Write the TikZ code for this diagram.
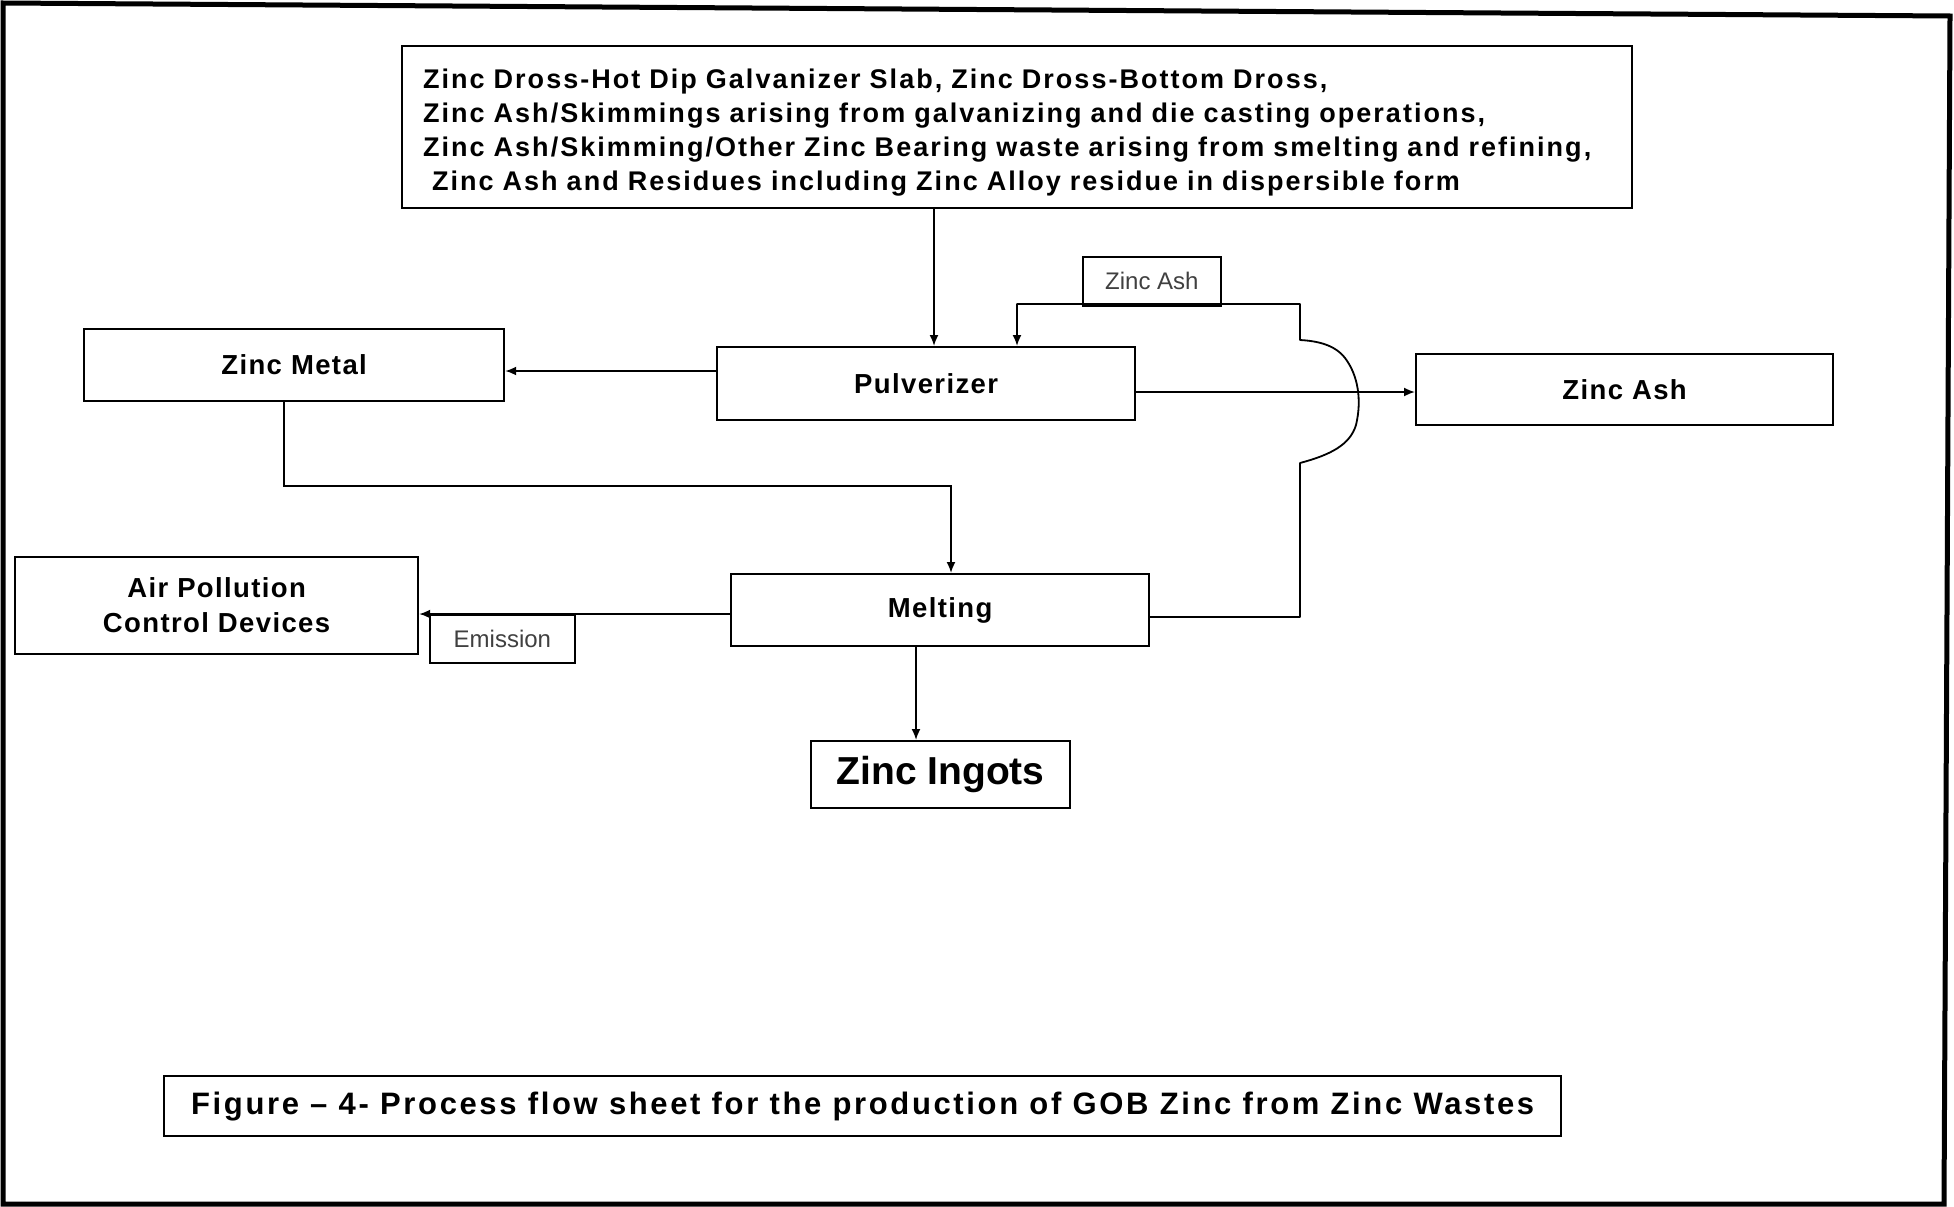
\documentclass[tikz,border=0pt]{standalone}
\usepackage{fontspec}
\setmainfont{Liberation Sans}
\newfontfamily\spaced[LetterSpace=5]{Liberation Sans}
\newfontfamily\wide[LetterSpace=7.5]{Liberation Sans}
\newfontfamily\capfont[LetterSpace=8.5]{Liberation Sans}
\usetikzlibrary{arrows.meta,calc}
\begin{document}
\begin{tikzpicture}[x=1pt,y=-1pt,
  box/.style={draw, line width=2.2pt, inner sep=0pt, anchor=north west},
  lab/.style={font=\spaced\bfseries\fontsize{27.5}{35}\selectfont, align=center},
  small/.style={draw, line width=1.8pt, inner sep=0pt, anchor=north west, text=black!75, font=\fontsize{24}{28}\selectfont},
  arr/.style={line width=1.8pt, -{Latex[length=11pt,width=9pt]}}]
\useasboundingbox (0,0) rectangle (1954,1207);
% outer frame
\draw[line width=5pt] (3,3) -- (1950,16) -- (1944,1204) -- (3,1204) -- cycle;
% nodes
\node[box, minimum width=1230pt, minimum height=162pt, text width=1188pt, align=left,
  font=\wide\bfseries\fontsize{27}{34}\selectfont] (src) at (401,45)
  {\rule{0pt}{30pt}Zinc Dross-Hot Dip Galvanizer Slab, Zinc Dross-Bottom Dross,\\
   Zinc Ash/Skimmings arising from galvanizing and die casting operations,\\
   Zinc Ash/Skimming/Other Zinc Bearing waste arising from smelting and refining,\\
   \hspace*{9pt}Zinc Ash and Residues including Zinc Alloy residue in dispersible form};
\node[box, lab, minimum width=418pt, minimum height=73pt] (pulv) at (716,346) {Pulverizer};
\node[box, lab, minimum width=420pt, minimum height=72pt] (zm) at (83,328) {Zinc Metal};
\node[box, lab, minimum width=417pt, minimum height=71pt] (zar) at (1415,353) {Zinc Ash};
\node[box, lab, minimum width=418pt, minimum height=72pt] (melt) at (730,573) {Melting};
\node[box, lab, minimum width=403pt, minimum height=97pt] (apcd) at (14,556) {Air Pollution\\Control Devices};
\node[box, minimum width=259pt, minimum height=67pt, font=\bfseries\fontsize{39}{44}\selectfont] (ing) at (810,740) {Zinc Ingots};
\node[box, minimum width=1397pt, minimum height=60pt, font=\capfont\bfseries\fontsize{31}{34}\selectfont] (cap) at (163,1075)
  {Figure – 4- Process flow sheet for the production of GOB Zinc from Zinc Wastes};
\node[small, minimum width=138pt, minimum height=49pt] (lash) at (1082,256) {Zinc Ash};
\node[small, minimum width=145pt, minimum height=48pt] (lem) at (429,614) {Emission};
% connectors
\draw[arr] (src.south -| 934,0) -- (pulv.north -| 934,0);
\draw[arr] (pulv.west |- 0,371) -- (zm.east |- 0,371);
\draw[arr] (pulv.east |- 0,392) -- (zar.west |- 0,392);
\draw[arr] (zm.south -| 284,0) -- (284,486) -- (951,486) -- (melt.north -| 951,0);
\draw[arr] (melt.west |- 0,614) -- (apcd.east |- 0,614);
\draw[arr] (melt.south -| 916,0) -- (ing.north -| 916,0);
\draw[arr, line join=round] (melt.east |- 0,617) -- (1300,617) -- (1300,463)
  .. controls (1330,455) and (1350,445) .. (1356,425)
  .. controls (1362,400) and (1358,375) .. (1345,358)
  .. controls (1335,345) and (1318,341) .. (1300,340)
  -- (1300,304) -- (1017,304) -- (pulv.north -| 1017,0);
\end{tikzpicture}
\end{document}
